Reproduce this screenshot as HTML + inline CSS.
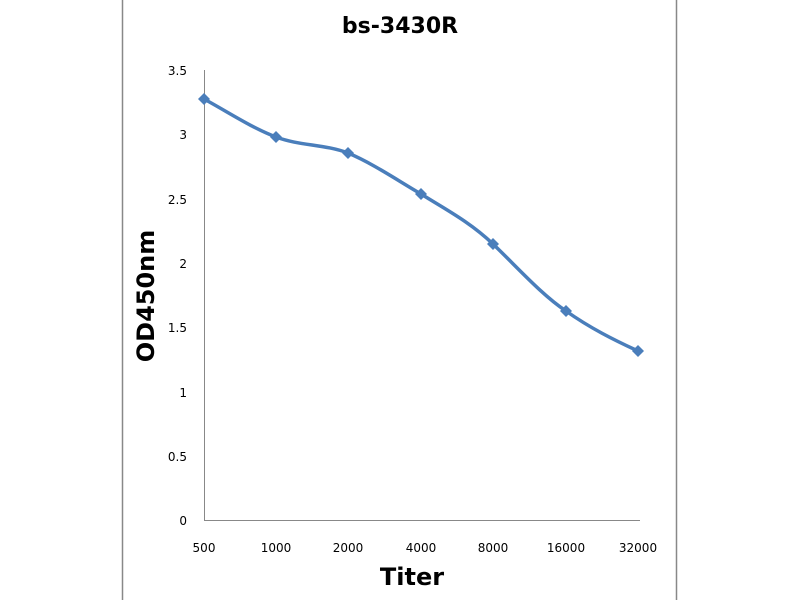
<!DOCTYPE html>
<html><head><meta charset="utf-8"><style>
html,body{margin:0;padding:0;background:#fff;}
svg{display:block;}
text{font-family:"DejaVu Sans","Liberation Sans",sans-serif;fill:#000;}
</style></head><body>
<svg width="800" height="600" viewBox="0 0 800 600" xmlns="http://www.w3.org/2000/svg">
<rect width="800" height="600" fill="#fff"/>
<line x1="122.5" y1="0" x2="122.5" y2="600" stroke="#888" stroke-width="1.5"/>
<line x1="676.5" y1="0" x2="676.5" y2="600" stroke="#888" stroke-width="1.5"/>
<text x="400" y="33" font-size="22" font-weight="bold" text-anchor="middle" font-family="Liberation Sans">bs-3430R</text>
<line x1="204.5" y1="70" x2="204.5" y2="521" stroke="#888" stroke-width="1"/>
<line x1="204" y1="520.5" x2="640" y2="520.5" stroke="#888" stroke-width="1"/>
<g font-size="12" text-anchor="end">
<text x="187" y="75">3.5</text>
<text x="187" y="139">3</text>
<text x="187" y="204">2.5</text>
<text x="187" y="268">2</text>
<text x="187" y="332">1.5</text>
<text x="187" y="397">1</text>
<text x="187" y="461">0.5</text>
<text x="187" y="525">0</text>
</g>
<g font-size="12" text-anchor="middle">
<text x="204" y="552">500</text>
<text x="276" y="552">1000</text>
<text x="348" y="552">2000</text>
<text x="421" y="552">4000</text>
<text x="493" y="552">8000</text>
<text x="566" y="552">16000</text>
<text x="638" y="552">32000</text>
</g>
<text x="412" y="585" font-size="24" font-weight="bold" text-anchor="middle" font-family="Liberation Sans">Titer</text>
<text transform="translate(154,296) rotate(-90)" font-size="24" font-weight="bold" text-anchor="middle" font-family="Liberation Sans">OD450nm</text>
<path d="M204,99 C228,112 252,128 276,137 C300,146 324,144 348,153 C372,163 397,180 421,194 C445,209 470,222 493,244 C518,268 542,295 566,311 C590,328 614,340 638,351" fill="none" stroke="#4a7ebb" stroke-width="3.5" stroke-linejoin="round"/>
<g fill="#4a7ebb">
<path d="M204,93 l6,6 -6,6 -6,-6z"/>
<path d="M276,131 l6,6 -6,6 -6,-6z"/>
<path d="M348,147 l6,6 -6,6 -6,-6z"/>
<path d="M421,188 l6,6 -6,6 -6,-6z"/>
<path d="M493,238 l6,6 -6,6 -6,-6z"/>
<path d="M566,305 l6,6 -6,6 -6,-6z"/>
<path d="M638,345 l6,6 -6,6 -6,-6z"/>
</g>
</svg>
</body></html>
